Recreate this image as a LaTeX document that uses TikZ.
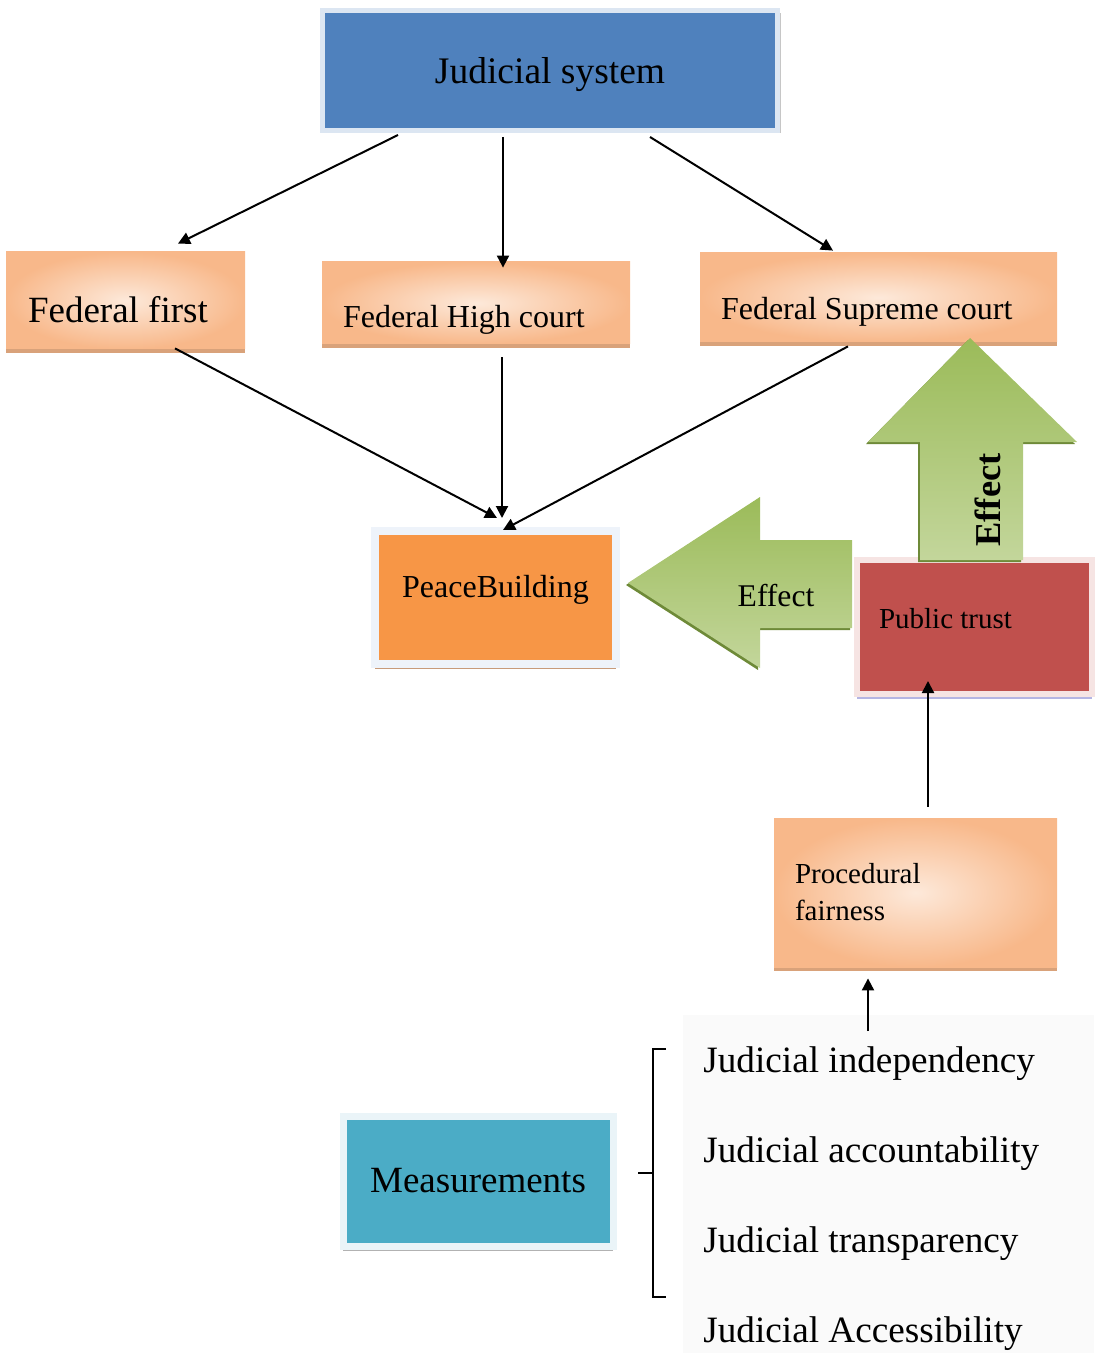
\documentclass[tikz,border=0pt]{standalone}
\usepackage{fontspec}
\setmainfont{Liberation Serif}
\usepackage{xcolor}
\definecolor{jsblue}{HTML}{4F81BD}
\definecolor{jsframe}{HTML}{DCE6F2}
\definecolor{peachlight}{HTML}{FDE9DA}
\definecolor{peachdark}{HTML}{F8B88A}
\definecolor{peachedge}{HTML}{D9A27A}
\definecolor{pborange}{HTML}{F79646}
\definecolor{pbframe}{HTML}{EEF3FA}
\definecolor{trustred}{HTML}{C0504D}
\definecolor{trustframe}{HTML}{F6E4E3}
\definecolor{measteal}{HTML}{4BACC6}
\definecolor{measframe}{HTML}{EAF4F8}
\definecolor{greendark}{HTML}{9BBB59}
\definecolor{greenlight}{HTML}{C3D69B}
\definecolor{greenedge}{HTML}{6E8A38}
\usepackage{tikz}
\usetikzlibrary{positioning, arrows.meta, shadows, calc}
\newcommand\plainspaces{\spaceskip 0pt\xspaceskip 0pt\relax}
\tikzset{
    bluebox/.style = {rectangle, fill=jsblue, draw=jsframe, line width=2.5pt,
                      minimum width=227.5pt, minimum height=60pt,
                      font=\fontsize{18.75}{22}\selectfont,
                      general shadow={fill=gray!45, shadow xshift=1.5pt, shadow yshift=-1.5pt}},
    courtbox/.style = {rectangle, inner color=peachlight, outer color=peachdark,
                       general shadow={fill=peachedge, shadow yshift=-2pt},
                       align=left, inner ysep=0pt, execute at begin node=\plainspaces},
    peacebox/.style = {rectangle, fill=pborange, draw=pbframe, line width=4pt,
                       minimum width=120.5pt, minimum height=66.5pt,
                       font=\fontsize{16}{19}\selectfont,
                       general shadow={fill=peachedge!80!gray, shadow yshift=-2.5pt}},
    trustbox/.style = {rectangle, fill=trustred, draw=trustframe, line width=3pt,
                       minimum width=117.5pt, minimum height=67pt, align=left,
                       execute at begin node=\plainspaces,
                       general shadow={fill=gray!55!blue!40, shadow yshift=-2.5pt}},
    measbox/.style = {rectangle, fill=measteal, draw=measframe, line width=3.5pt,
                      minimum width=135pt, minimum height=65pt,
                      font=\fontsize{18.5}{22}\selectfont,
                      general shadow={fill=gray!60, shadow yshift=-2.5pt}},
    listitem/.style = {anchor=base west, inner sep=0pt, font=\fontsize{18.6}{22}\selectfont},
    arrow/.style = {-{Triangle[length=6pt, width=6pt]}, line width=1pt, color=black},
    greenarrow/.style = {top color=greendark, bottom color=greenlight,
                         general shadow={fill=greenedge, shadow xshift=-1pt, shadow yshift=-1pt}},
}

\begin{document}
\begin{tikzpicture}[x=0.5pt, y=-0.5pt]
        \useasboundingbox (0,0) rectangle (1094,1353);
        % top of the tree
        \node[bluebox, text depth=0pt] (js) at (550,70.5) {Judicial system};
        % the three courts
        \node[courtbox, minimum width=119.5pt, minimum height=48.5pt, inner xsep=11pt,
              text width=97.5pt, text height=22.5pt, text depth=0pt,
              font=\fontsize{18.5}{22}\selectfont] (ff) at (125.5,300.5) {Federal first};
        \node[courtbox, minimum width=154pt, minimum height=41pt, inner xsep=10.5pt,
              text width=133pt, text height=25pt, text depth=0pt,
              font=\fontsize{16}{19}\selectfont] (fh) at (476,303) {Federal High court};
        \node[courtbox, minimum width=178.5pt, minimum height=44.5pt, inner xsep=10.5pt,
              text width=157.5pt, text height=22.5pt, text depth=0pt,
              font=\fontsize{16}{19}\selectfont] (fs) at (878.5,297.5) {Federal Supreme court};
        \node[peacebox, text height=0pt, text depth=0pt] (pb) at (495.5,597.5) {PeaceBuilding};
        \node[trustbox, inner xsep=11pt, text width=95.5pt, text height=1pt, text depth=0pt,
              font=\fontsize{14.5}{17}\selectfont] (pt) at (974.5,627) {Public trust};
        \node[courtbox, minimum width=141.5pt, minimum height=74.5pt, inner xsep=10.5pt,
              text width=120.5pt, font=\fontsize{14.5}{18.5}\selectfont] (pf) at (915.5,892.5)
              {Procedural\\fairness};
        % effect arrows
        \shade[greenarrow] (628,583) -- (760,497) -- (760,540) -- (852,540) -- (852,628)
              -- (760,628) -- (760,668) -- cycle;
        \shade[greenarrow] (970,338) -- (1077,442) -- (1023,442) -- (1023,560)
              -- (920,560) -- (920,442) -- (868,442) -- cycle;
        \node[font=\fontsize{15.8}{19}\selectfont] (efleft) at (776,596) {Effect};
        \node[rotate=90, font=\fontsize{18.2}{22}\selectfont\bfseries] (efup) at (988,500) {Effect};
        % measurements
        \fill[black!2] (683,1015) rectangle (1094,1353);
        \node[measbox] (ms) at (478,1181) {Measurements};
        \node[listitem] (li1) at (703,1072) {Judicial independency};
        \node[listitem] (li2) at (703,1162) {Judicial accountability};
        \node[listitem] (li3) at (703,1252) {Judicial transparency};
        \node[listitem] (li4) at (703,1342) {Judicial Accessibility};
        \coordinate (brk) at (653,1173);
        \draw[line width=1pt] (666,1049) -| (brk) |- (666,1297);
        \draw[line width=1pt] (ms.east -| 638,0) ++(0,-8) -- (brk);
        \coordinate (lst) at (868,1031);
        % connectors
        \draw[arrow] ($(js.south)+(-152,2)$) -- ($(ff.north)+(52.5,-8)$);
        \draw[arrow] ($(js.south)+(-47,4)$) -- ($(fh.north)+(27,6)$);
        \draw[arrow] ($(js.south)+(100,4)$) -- ($(fs.north)+(-45.5,-2)$);
        \draw[arrow] ($(ff.south)+(49.5,-1)$) -- ($(pb.north)+(1.5,-9)$);
        \draw[arrow] ($(fh.south)+(26,13)$) -- ($(pb.north)+(6.5,-9)$);
        \draw[arrow] ($(fs.south)+(-30.5,4)$) -- ($(pb.north)+(7.5,3)$);
        \draw[arrow] ($(pf.north)+(12.5,-11)$) -- ($(pt.south)+(-46.5,-16)$);
        \draw[arrow] (lst) -- ($(pf.south)+(-47.5,11)$);
      \end{tikzpicture}
\end{document}
